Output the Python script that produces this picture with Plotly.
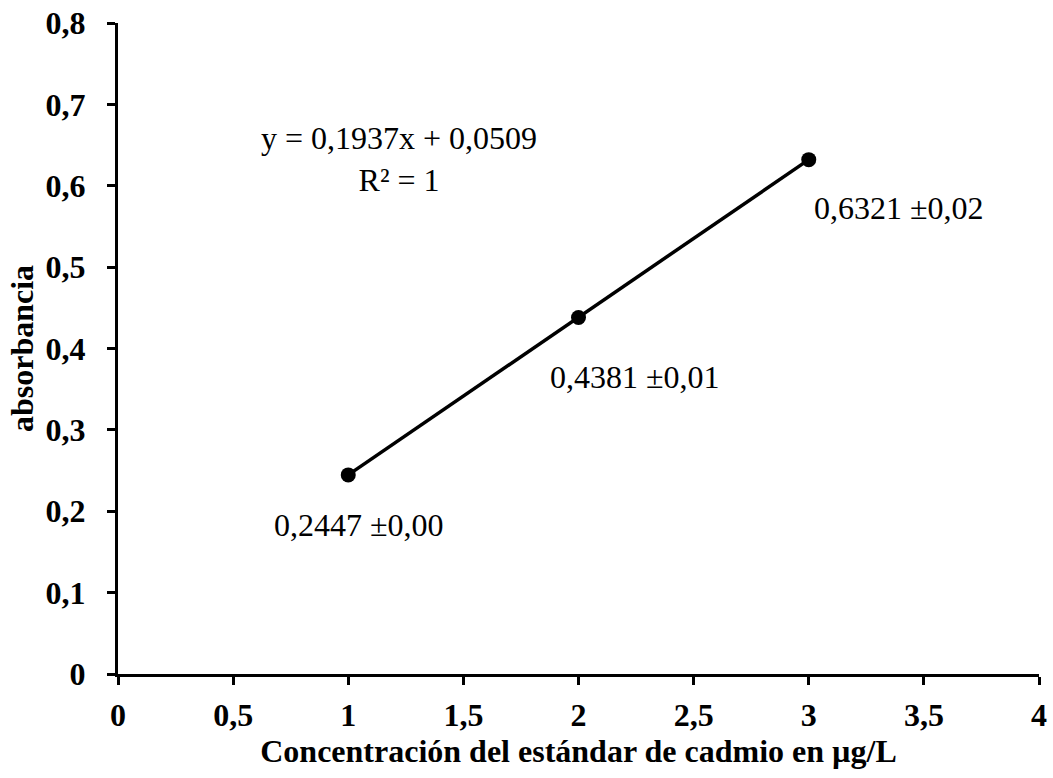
import plotly.graph_objects as go

# Calibration standards for cadmium
concentracion = [1, 2, 3]
absorbancia = [0.2447, 0.4381, 0.6321]
desviacion = ["0,00", "0,01", "0,02"]

x_ticks = [0, 0.5, 1, 1.5, 2, 2.5, 3, 3.5, 4]
x_tick_text = ["0", "0,5", "1", "1,5", "2", "2,5", "3", "3,5", "4"]
y_ticks = [0, 0.1, 0.2, 0.3, 0.4, 0.5, 0.6, 0.7, 0.8]
y_tick_text = ["0", "0,1", "0,2", "0,3", "0,4", "0,5", "0,6", "0,7", "0,8"]

pendiente = 0.1937
intercepto = 0.0509

FONT = "Liberation Serif, Times New Roman, serif"
FS = 32

fig = go.Figure()
fig.add_trace(go.Scatter(
    x=concentracion, y=absorbancia, mode="lines+markers",
    line=dict(color="black", width=3.5),
    marker=dict(color="black", size=15),
    showlegend=False, cliponaxis=False,
))

# Value labels beside each point
label_offsets = [(0.047, -0.062), (0.245, -0.073), (0.392, -0.059)]
for xv, yv, sd, (dx, dy) in zip(concentracion, absorbancia, desviacion, label_offsets):
    fig.add_annotation(
        x=xv + dx, y=yv + dy, showarrow=False,
        text=f"{yv:.4f}".replace(".", ",") + " ±" + sd,
        font=dict(family=FONT, size=FS, color="black"),
    )

fig.add_annotation(
    x=1.22, y=0.633, showarrow=False, align="center",
    text=f"y = {pendiente:.4f}x + {intercepto:.4f}".replace(".", ",") + "<br>R² = 1",
    font=dict(family=FONT, size=FS, color="black"),
)

axis_common = dict(
    showline=True, linecolor="black", linewidth=3,
    ticks="outside", ticklen=8, tickwidth=3, tickcolor="black",
    showgrid=False, zeroline=False, automargin=False,
    tickfont=dict(family=FONT, size=FS, color="black", weight="bold"),
)

fig.update_layout(
    width=1053, height=778,
    margin=dict(l=118, r=14, t=23, b=104),
    paper_bgcolor="white", plot_bgcolor="white",
    xaxis=dict(
        range=[0, 4], tickvals=x_ticks, ticktext=x_tick_text,
        ticklabelstandoff=3,
        title=dict(text="Concentración del estándar de cadmio en µg/L",
                   font=dict(family=FONT, size=FS, color="black", weight="bold"),
                   standoff=6),
        **axis_common,
    ),
    yaxis=dict(
        range=[0, 0.8], tickvals=y_ticks, ticktext=y_tick_text,
        ticklabelstandoff=15,
        title=dict(text="absorbancia",
                   font=dict(family=FONT, size=FS, color="black", weight="bold"),
                   standoff=3),
        **axis_common,
    ),
)

fig.write_html("out.html")
